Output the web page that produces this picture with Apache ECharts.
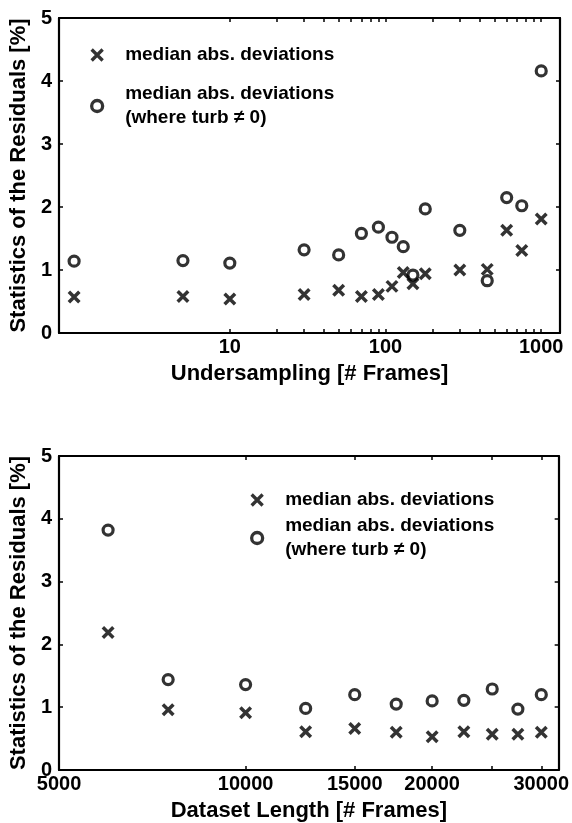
<!DOCTYPE html>
<html>
<head>
<meta charset="utf-8">
<script src="https://cdn.jsdelivr.net/npm/echarts@6/dist/echarts.min.js"></script>
<style>
html,body{margin:0;padding:0;background:#fff;}
#c{width:572px;height:823px;}
</style>
</head>
<body>
<div id="c"></div>
<script>
// ---- data ----
const topX = [1, 5, 10, 30, 50, 70, 90, 110, 130, 150, 180, 300, 450, 600, 750, 1000];
const topCross = [0.57, 0.58, 0.54, 0.61, 0.68, 0.58, 0.61, 0.74, 0.96, 0.78, 0.94, 1.00, 1.01, 1.63, 1.31, 1.81];
const topCircle = [1.14, 1.15, 1.11, 1.32, 1.24, 1.58, 1.68, 1.52, 1.37, 0.92, 1.97, 1.63, 0.83, 2.15, 2.02, 4.16];

const botX = [6000, 7500, 10000, 12500, 15000, 17500, 20000, 22500, 25000, 27500, 30000];
const botCross = [2.19, 0.96, 0.91, 0.61, 0.66, 0.60, 0.53, 0.61, 0.57, 0.57, 0.60];
const botCircle = [3.82, 1.44, 1.36, 0.98, 1.20, 1.05, 1.10, 1.11, 1.29, 0.97, 1.20];

const topXTicks = [10, 20, 30, 40, 50, 60, 70, 80, 90, 100, 200, 300, 400, 500, 600, 700, 800, 900, 1000];
const topXLabels = [10, 100, 1000];
const botXTicks = [5000, 10000, 15000, 20000, 25000, 30000];
const botXLabels = [5000, 10000, 15000, 20000, 30000];

const nameCross = 'median abs. deviations';
const nameCircle = 'median abs. deviations\n(where turb \u2260 0)';
const yTitle = 'Statistics of the Residuals [%]';
const topXTitle = 'Undersampling [# Frames]';
const botXTitle = 'Dataset Length [# Frames]';

// ---- styling ----
const FONT = "'Liberation Sans', Arial, Helvetica, sans-serif";
const crossPath = 'path://M0,0L10,10M10,0L0,10';
const lineStyle = {color: '#000', width: 2.2};
const tickStyle = {color: '#000', width: 1.5};

function xAxes(grid, min, max, ticks, labels, title) {
  const fmt = v => String(Math.round(v));
  return [
    {
      type: 'log', gridIndex: grid, position: 'bottom', min: min, max: max,
      axisLine: {show: true, lineStyle: lineStyle, onZero: false},
      axisTick: {show: true, inside: true, length: 4, lineStyle: tickStyle, customValues: ticks},
      axisLabel: {show: true, customValues: labels, formatter: fmt, color: '#000',
        fontSize: 20, fontWeight: 'bold', fontFamily: FONT, margin: 4},
      minorTick: {show: false}, splitLine: {show: false},
      name: title, nameLocation: 'middle', nameGap: 30,
      nameTextStyle: {color: '#000', fontSize: 22, fontWeight: 'bold', fontFamily: FONT}
    },
    {
      type: 'log', gridIndex: grid, position: 'top', min: min, max: max,
      axisLine: {show: true, lineStyle: lineStyle, onZero: false},
      axisTick: {show: true, inside: true, length: 4, lineStyle: tickStyle, customValues: ticks},
      axisLabel: {show: false}, splitLine: {show: false}
    }
  ];
}
function yAxes(grid) {
  return [
    {
      type: 'value', gridIndex: grid, position: 'left', min: 0, max: 5, interval: 1,
      axisLine: {show: true, lineStyle: lineStyle, onZero: false},
      axisTick: {show: true, inside: true, length: 4, lineStyle: tickStyle},
      axisLabel: {color: '#000', fontSize: 20, fontWeight: 'bold', fontFamily: FONT, margin: 7},
      splitLine: {show: false},
      name: yTitle, nameLocation: 'middle', nameGap: 27,
      nameTextStyle: {color: '#000', fontSize: 22, fontWeight: 'bold', fontFamily: FONT}
    },
    {
      type: 'value', gridIndex: grid, position: 'right', min: 0, max: 5, interval: 1,
      axisLine: {show: true, lineStyle: lineStyle, onZero: false},
      axisTick: {show: true, inside: true, length: 4, lineStyle: tickStyle},
      axisLabel: {show: false}, splitLine: {show: false}
    }
  ];
}
function pairs(xs, ys) { return xs.map((x, i) => [x, ys[i]]); }

function crossSeries(xi, yi, xs, ys) {
  return {
    type: 'scatter', name: nameCross, xAxisIndex: xi, yAxisIndex: yi,
    symbol: crossPath, symbolSize: 10.5, data: pairs(xs, ys),
    itemStyle: {color: 'transparent', borderColor: '#000', borderWidth: 3.5},
    emphasis: {disabled: true}, silent: true
  };
}
function circleSeries(xi, yi, xs, ys) {
  return {
    type: 'scatter', name: nameCircle, xAxisIndex: xi, yAxisIndex: yi,
    symbol: 'circle', symbolSize: 10, data: pairs(xs, ys),
    itemStyle: {color: 'transparent', borderColor: '#000', borderWidth: 3.2},
    emphasis: {disabled: true}, silent: true
  };
}
function legend(name, icon, left, top) {
  return {
    show: true, orient: 'vertical', left: left, top: top, padding: 0,
    itemWidth: 46, itemHeight: 11, selectedMode: false,
    data: [{name: name, icon: icon}],
    itemStyle: {color: 'transparent', borderColor: '#000', borderWidth: 3.3},
    textStyle: {color: '#000', fontSize: 19, fontWeight: 'bold', fontFamily: FONT, lineHeight: 24}
  };
}

const option = {
  backgroundColor: '#fff',
  animation: false,
  grid: [
    {left: 56, top: 18, width: 504, height: 315},
    {left: 56, top: 456, width: 504, height: 315}
  ],
  xAxis: [].concat(
    xAxes(0, 0.8, 1320, topXTicks, topXLabels, topXTitle),
    xAxes(1, 5000, 32000, botXTicks, botXLabels, botXTitle)
  ),
  yAxis: [].concat(yAxes(0), yAxes(1)),
  legend: [
    legend(nameCross, crossPath, 90, 43),
    legend(nameCircle, 'circle', 90, 82),
    legend(nameCross, crossPath, 250, 488),
    legend(nameCircle, 'circle', 250, 514)
  ],
  series: [
    crossSeries(0, 0, topX, topCross),
    circleSeries(0, 0, topX, topCircle),
    crossSeries(2, 2, botX, botCross),
    circleSeries(2, 2, botX, botCircle)
  ]
};

const chart = echarts.init(document.getElementById('c'), null, {renderer: 'canvas'});
chart.setOption(option);
</script>
</body>
</html>
